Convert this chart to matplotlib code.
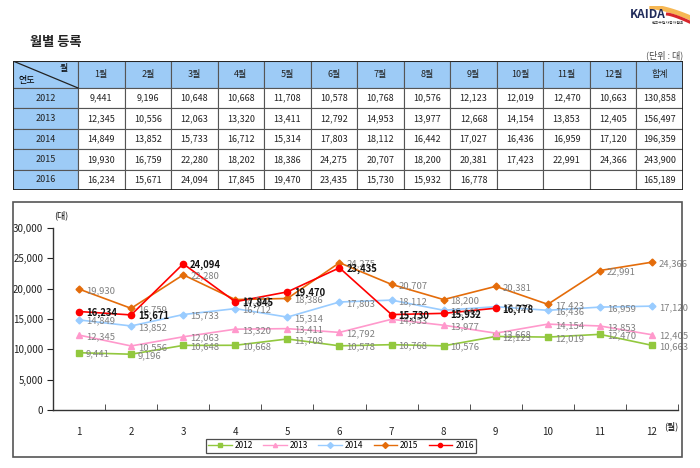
"""월별 등록 — monthly registrations table + line chart (KAIDA style)."""

import numpy as np
import matplotlib
matplotlib.use("Agg")
import matplotlib.pyplot as plt
from matplotlib.patches import Rectangle
from matplotlib.lines import Line2D

plt.rcParams["font.family"] = ["Noto Sans CJK KR", "DejaVu Sans"]

months = list(range(1, 13))
month_labels = [f"{m}월" for m in months]
years = ["2012", "2013", "2014", "2015", "2016"]

v2012 = [9441, 9196, 10648, 10668, 11708, 10578, 10768, 10576, 12123, 12019, 12470, 10663]
v2013 = [12345, 10556, 12063, 13320, 13411, 12792, 14953, 13977, 12668, 14154, 13853, 12405]
v2014 = [14849, 13852, 15733, 16712, 15314, 17803, 18112, 16442, 17027, 16436, 16959, 17120]
v2015 = [19930, 16759, 22280, 18202, 18386, 24275, 20707, 18200, 20381, 17423, 22991, 24366]
v2016 = [16234, 15671, 24094, 17845, 19470, 23435, 15730, 15932, 16778]
totals = [130858, 156497, 196359, 243900, 165189]

series = [v2012, v2013, v2014, v2015, v2016]
colors = ["#92C83E", "#FF99CC", "#99CCFF", "#E46C0A", "#FF0000"]
markers = ["s", "^", "D", "D", "o"]
msizes = [4, 4.5, 3.5, 3.5, 4.5]

W, H = 700, 468
fig = plt.figure(figsize=(7, 4.68), dpi=100)
fig.patch.set_facecolor("white")


def fx(px):
    return px / W


def fy(py):
    return 1 - py / H


# header texts
fig.text(fx(30), fy(42), "월별 등록", fontsize=9.5, fontweight="bold", va="center", color="#222222")
fig.text(fx(683), fy(55), "(단위 : 대)", fontsize=6.5, ha="right", va="center", color="#444444")

# KAIDA logo (approximation): swoosh behind the lettering
logo_ax = fig.add_axes([fx(645), fy(24), fx(45), 18 / H])
logo_ax.axis("off")
tt = np.linspace(0, 1, 40)
logo_ax.plot(0.15 + 0.85 * tt, 0.95 - 0.6 * tt ** 1.5, color="#F5B041", lw=3.5, alpha=0.9)
logo_ax.plot(0.5 + 0.5 * tt, 0.55 - 0.45 * tt ** 1.3, color="#D9262C", lw=2.2)
logo_ax.set_xlim(0, 1)
logo_ax.set_ylim(0, 1)
fig.text(fx(630), fy(14), "KAIDA", fontsize=8.5, fontweight="bold", style="italic",
         color="#1F2A5A", va="center")
fig.text(fx(652), fy(23), "한국수입자동차협회", fontsize=2.8, color="#333333", va="center")

# ---------- table ----------
tab_l, tab_r, tab_t, tab_b = 13, 683, 61, 190
tax = fig.add_axes([fx(tab_l), fy(tab_b), fx(tab_r - tab_l), (tab_b - tab_t) / H])
col_w = [65] + [46.5] * 13
row_h = [27] + [20.4] * 5
tax.set_xlim(0, sum(col_w))
tax.set_ylim(sum(row_h), 0)
tax.axis("off")

hdr_color = "#9DCBF6"
col_x = np.concatenate([[0], np.cumsum(col_w)])
row_y = np.concatenate([[0], np.cumsum(row_h)])
headers = month_labels + ["합계"]

for r in range(6):
    for c in range(14):
        x0, y0 = col_x[c], row_y[r]
        w, h = col_w[c], row_h[r]
        fc = hdr_color if (r == 0 or c == 0) else "white"
        tax.add_patch(Rectangle((x0, y0), w, h, facecolor=fc, edgecolor="#555555", lw=0.8))
        cx, cy = x0 + w / 2, y0 + h / 2
        if r == 0 and c == 0:
            tax.plot([x0, x0 + w], [y0, y0 + h], color="#222222", lw=0.9)
            tax.text(x0 + w - 14, y0 + 7, "월", fontsize=6.5, ha="center", va="center")
            tax.text(x0 + 14, y0 + h - 7, "연도", fontsize=6.5, ha="center", va="center")
        elif r == 0:
            tax.text(cx, cy, headers[c - 1], fontsize=6.5, ha="center", va="center", color="#222222")
        elif c == 0:
            tax.text(cx, cy, years[r - 1], fontsize=6.5, ha="center", va="center", color="#222222")
        else:
            vals = series[r - 1]
            if c == 13:
                txt = f"{totals[r - 1]:,}"
            elif c - 1 < len(vals):
                txt = f"{vals[c - 1]:,}"
            else:
                txt = ""
            tax.text(cx, cy, txt, fontsize=6.5, ha="center", va="center", color="#222222")
tax.add_patch(Rectangle((0, 0), sum(col_w), sum(row_h), facecolor="none",
                        edgecolor="#222222", lw=1.3))

# ---------- chart ----------
fig.patches.append(Rectangle((fx(13), fy(457)), fx(669), (457 - 202) / H,
                             transform=fig.transFigure, facecolor="none",
                             edgecolor="#555555", lw=1.2))

ax = fig.add_axes([fx(53), fy(410), fx(625), (410 - 228) / H])
for i, (vals, col, mk, ms) in enumerate(zip(series, colors, markers, msizes)):
    xs = months[:len(vals)]
    ax.plot(xs, vals, color=col, marker=mk, markersize=ms, lw=1.2, label=years[i],
            markeredgecolor=col, zorder=3 + i)
    bold = years[i] == "2016"
    for x, v in zip(xs, vals):
        ax.annotate(f"{v:,}", (x, v), xytext=(5, -1), textcoords="offset points",
                    fontsize=6.8, va="center", ha="left",
                    color="#111111" if bold else "#808080",
                    fontweight="bold" if bold else "normal", zorder=10)

ax.set_xlim(0.5, 12.5)
ax.set_ylim(0, 30000)
ax.set_yticks(np.arange(0, 30001, 5000))
ax.set_yticklabels([f"{t:,}" for t in range(0, 30001, 5000)])
ax.set_xticks(months)
ax.set_xticks(np.arange(0.5, 13, 1), minor=True)
ax.tick_params(axis="x", which="major", length=0, pad=12, labelsize=7, colors="#222222")
ax.tick_params(axis="x", which="minor", direction="in", length=4, color="#333333")
ax.tick_params(axis="y", direction="out", length=4, labelsize=7, colors="#222222", pad=3)
for s in ["top", "right"]:
    ax.spines[s].set_visible(False)
for s in ["left", "bottom"]:
    ax.spines[s].set_color("#333333")
    ax.spines[s].set_linewidth(1.0)
ax.set_facecolor("none")

fig.text(fx(54), fy(215), "(대)", fontsize=6.5, ha="left", va="center")
fig.text(fx(664), fy(426), "(월)", fontsize=6.5, ha="left", va="center")

handles = [Line2D([0], [0], color=c, marker=m, markersize=3, lw=1) for c, m in zip(colors, markers)]
leg = fig.legend(handles, years, loc="center", bbox_to_anchor=(fx(341), fy(445.5)), ncol=5,
                 fontsize=6, frameon=True, fancybox=False, handlelength=2.8,
                 columnspacing=1.2, handletextpad=0.4, borderpad=0.3)
leg.get_frame().set_edgecolor("#222222")
leg.get_frame().set_linewidth(0.9)

fig.savefig("out.png", dpi=100, facecolor="white")
